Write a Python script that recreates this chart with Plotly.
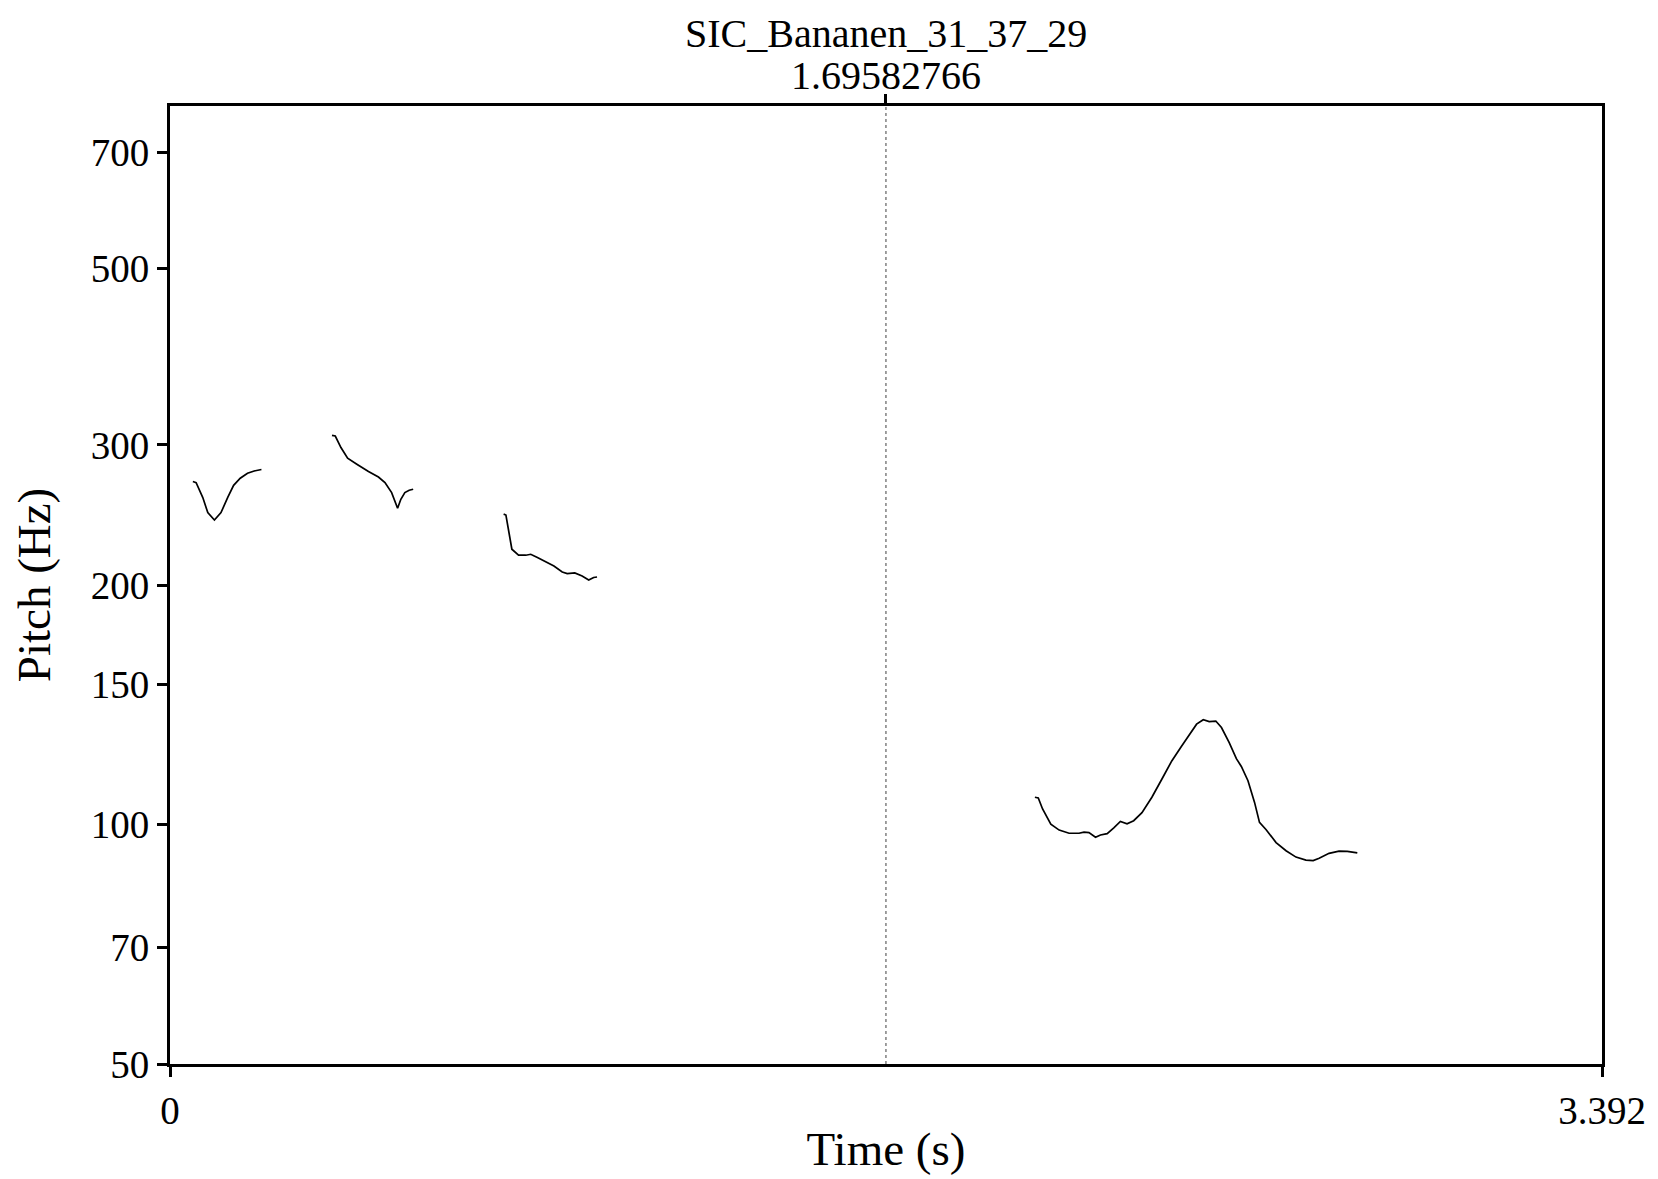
import numpy as np
import plotly.graph_objects as go

# ---- data (time in s, pitch in Hz) ----
seg1_t = [0.0541, 0.0619, 0.0777, 0.0895, 0.1052, 0.1208, 0.1365, 0.1507, 0.1664, 0.1836, 0.1994, 0.2166]
seg1_f = [269.8, 269.0, 257.6, 246.6, 241.4, 246.6, 257.6, 266.9, 272.4, 276.4, 278.2, 279.4]

seg2_t = [0.3837, 0.3915, 0.4049, 0.4207, 0.4426, 0.4701, 0.4937, 0.5092, 0.5250, 0.5391, 0.5468, 0.5563, 0.5666, 0.5760]
seg2_f = [308.4, 307.8, 297.7, 288.7, 283.7, 277.7, 273.4, 269.0, 261.3, 249.7, 256.3, 261.3, 263.1, 263.9]

seg3_t = [0.7903, 0.7957, 0.8098, 0.8256, 0.8427, 0.8545, 0.8703, 0.8898, 0.9094, 0.9291, 0.9409, 0.9588, 0.9762, 0.9918, 1.0035, 1.0115]
seg3_f = [245.5, 244.9, 221.8, 218.0, 218.0, 218.6, 216.5, 214.0, 211.3, 207.7, 206.7, 207.1, 205.3, 202.9, 204.4, 204.7]

seg4_t = [2.0487, 2.0567, 2.0669, 2.0864, 2.1062, 2.1297, 2.1533, 2.1650, 2.1768, 2.1923, 2.2041, 2.2199,
          2.2356, 2.2512, 2.2670, 2.2827, 2.3023, 2.3258, 2.3493, 2.3729, 2.3964, 2.4160, 2.4317, 2.4475,
          2.4616, 2.4772, 2.4906, 2.5087, 2.5259, 2.5377, 2.5534, 2.5690, 2.5807, 2.5965, 2.6200, 2.6436,
          2.6671, 2.6907, 2.7079, 2.7220, 2.7455, 2.7691, 2.7888, 2.8124]
seg4_f = [108.2, 108.0, 104.6, 100.1, 98.4, 97.5, 97.5, 97.8, 97.7, 96.4, 97.0, 97.4,
          99.0, 100.9, 100.2, 101.1, 103.5, 108.2, 114.0, 120.2, 125.5, 129.9, 133.7, 135.4,
          134.7, 134.9, 132.4, 126.8, 121.0, 118.3, 113.5, 106.6, 100.6, 98.5, 94.9, 92.7,
          91.0, 90.2, 90.1, 90.7, 92.0, 92.6, 92.5, 92.1]

segments = [(seg1_t, seg1_f), (seg2_t, seg2_f), (seg3_t, seg3_f), (seg4_t, seg4_f)]

y_ticks = [50, 70, 100, 150, 200, 300, 500, 700]
x_min, x_max = 0, 3.392
y_min, y_max = 50, 800
cursor_t = 1.69582766
title_text = "SIC_Bananen_31_37_29"
cursor_label = "1.69582766"

FONT = "Liberation Serif, Times New Roman, serif"
FS = 39

fig = go.Figure()
for t, f in segments:
    fig.add_trace(go.Scatter(x=t, y=f, mode="lines",
                             line=dict(color="black", width=1.7),
                             showlegend=False, hoverinfo="skip"))

# invisible trace for top axis (cursor tick)
fig.add_trace(go.Scatter(x=[cursor_t], y=[y_min], xaxis="x2", mode="markers",
                         marker=dict(opacity=0), showlegend=False, hoverinfo="skip"))

fig.add_shape(type="line", xref="x", yref="paper", x0=cursor_t, x1=cursor_t, y0=0, y1=1,
              line=dict(color="#808080", width=1.5, dash="dot"))

big = '<span style="font-size:40px">{}</span>'

# page body has an 8px default margin -> figure is 8px smaller and shifted
fig.update_layout(
    width=1650, height=1171,
    margin=dict(l=159, r=50, t=98, b=114),
    paper_bgcolor="white", plot_bgcolor="white",
    font=dict(family=FONT, size=FS, color="black"),
    xaxis=dict(range=[x_min, x_max], tickvals=[x_min, x_max], ticktext=["0", "3.392"],
               ticks="outside", ticklen=10, tickwidth=3, tickcolor="black",
               showline=True, linewidth=3, linecolor="black", mirror=True,
               showgrid=False, zeroline=False,
               title=dict(text="Time (s)", standoff=2)),
    xaxis2=dict(range=[x_min, x_max], overlaying="x", side="top", anchor="y",
                tickvals=[cursor_t], ticks="outside", ticklen=11, tickwidth=3, tickcolor="black",
                showticklabels=False, showline=False, showgrid=False, zeroline=False),
    yaxis=dict(type="log", range=[np.log10(y_min), np.log10(y_max)],
               tickvals=y_ticks, ticktext=[str(v) for v in y_ticks],
               ticks="outside", ticklen=10, tickwidth=3, tickcolor="black",
               showline=True, linewidth=3, linecolor="black", mirror=True,
               showgrid=False, zeroline=False,
               title=dict(text="Pitch (Hz)", standoff=38)),
    annotations=[
        dict(text=big.format(title_text) + "<br>" + big.format(cursor_label),
             xref="x", yref="paper", x=cursor_t,
             y=1 + 97 / 959, xanchor="center", yanchor="top", align="center",
             showarrow=False, font=dict(size=32)),
    ],
)

fig.write_html("out.html")
